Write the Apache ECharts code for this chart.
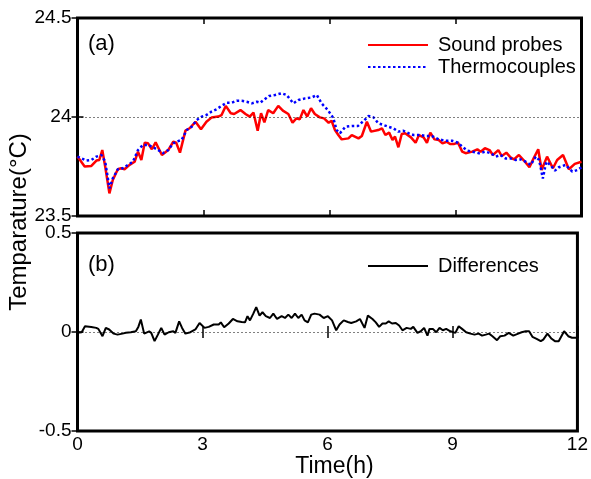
<!DOCTYPE html>
<html>
<head>
<meta charset="utf-8">
<script src="https://cdn.jsdelivr.net/npm/echarts@6/dist/echarts.min.js"></script>
<style>
html,body{margin:0;padding:0;background:#fff;}
#chart{width:591px;height:479px;}
</style>
</head>
<body>
<div id="chart"></div>
<script>
// Time (h) ticks
const timeTicks = [0, 3, 6, 9, 12];
// Top panel: [time (h), temperature (°C)]
const soundProbes = [
[0,23.80],[0.17,23.75],[0.33,23.753],[0.45,23.78],[0.52,23.783],[0.59,23.833],[0.66,23.749],[0.76,23.614],[0.84,23.682],[0.96,23.736],[1.04,23.741],[1.12,23.736],[1.24,23.758],[1.36,23.774],[1.44,23.825],[1.52,23.783],[1.60,23.870],[1.68,23.867],[1.77,23.837],[1.86,23.872],[2.01,23.808],[2.16,23.833],[2.28,23.875],[2.35,23.870],[2.44,23.820],[2.57,23.931],[2.67,23.943],[2.81,23.976],[2.94,23.938],[3.07,23.976],[3.19,23.997],[3.35,24.002],[3.43,24.010],[3.53,24.056],[3.65,24.019],[3.73,24.015],[3.88,24.035],[4.00,24.015],[4.10,24.002],[4.19,24.022],[4.29,23.931],[4.37,24.019],[4.45,23.973],[4.54,24.035],[4.66,24.019],[4.78,24.056],[4.89,24.032],[5.02,24.015],[5.12,23.971],[5.21,23.993],[5.29,23.988],[5.38,24.035],[5.47,24.002],[5.56,24.044],[5.65,24.015],[5.77,23.998],[5.87,23.993],[5.98,23.971],[6.05,23.981],[6.13,23.934],[6.21,23.909],[6.29,23.887],[6.45,23.892],[6.53,23.909],[6.69,23.892],[6.77,23.904],[6.89,23.976],[6.99,23.926],[7.16,23.934],[7.25,23.943],[7.33,23.909],[7.42,23.921],[7.50,23.884],[7.56,23.901],[7.64,23.847],[7.72,23.914],[7.80,23.918],[7.94,23.897],[8.05,23.870],[8.13,23.909],[8.24,23.897],[8.32,23.870],[8.40,23.921],[8.50,23.887],[8.60,23.884],[8.69,23.867],[8.79,23.875],[8.87,23.864],[8.97,23.864],[9.06,23.870],[9.16,23.825],[9.24,23.817],[9.40,23.825],[9.52,23.837],[9.60,23.825],[9.70,23.842],[9.81,23.833],[9.89,23.808],[10.02,23.833],[10.10,23.803],[10.21,23.820],[10.31,23.796],[10.39,23.786],[10.51,23.808],[10.63,23.780],[10.76,23.746],[10.86,23.791],[10.97,23.837],[11.05,23.732],[11.18,23.800],[11.32,23.741],[11.42,23.783],[11.56,23.808],[11.70,23.736],[11.84,23.763],[12.00,23.774]
];
const thermocouples = [
[0,23.80],[0.21,23.78],[0.33,23.783],[0.45,23.80],[0.57,23.808],[0.66,23.774],[0.76,23.640],[0.84,23.690],[0.96,23.736],[1.08,23.741],[1.20,23.758],[1.32,23.774],[1.44,23.833],[1.56,23.859],[1.68,23.859],[1.80,23.847],[1.92,23.833],[2.03,23.817],[2.16,23.833],[2.28,23.867],[2.35,23.875],[2.48,23.884],[2.60,23.934],[2.72,23.951],[2.84,23.985],[2.96,24.002],[3.07,24.010],[3.19,24.027],[3.31,24.039],[3.43,24.056],[3.55,24.072],[3.67,24.072],[3.79,24.082],[3.91,24.082],[4.03,24.077],[4.15,24.069],[4.27,24.077],[4.35,24.072],[4.45,24.089],[4.56,24.106],[4.70,24.111],[4.86,24.120],[4.98,24.111],[5.14,24.069],[5.26,24.086],[5.42,24.094],[5.58,24.099],[5.70,24.111],[5.81,24.069],[5.96,24.035],[6.09,23.995],[6.17,23.934],[6.25,23.918],[6.38,23.951],[6.53,23.955],[6.68,23.955],[6.79,23.976],[6.93,24.005],[7.05,23.998],[7.16,23.968],[7.28,23.960],[7.40,23.951],[7.52,23.943],[7.64,23.926],[7.75,23.931],[7.88,23.918],[8.00,23.909],[8.16,23.909],[8.28,23.904],[8.44,23.904],[8.60,23.887],[8.76,23.880],[8.92,23.880],[9.06,23.870],[9.16,23.850],[9.28,23.830],[9.40,23.825],[9.56,23.817],[9.72,23.825],[9.84,23.817],[9.96,23.800],[10.07,23.808],[10.19,23.791],[10.31,23.791],[10.43,23.783],[10.55,23.786],[10.67,23.774],[10.79,23.758],[10.91,23.800],[10.99,23.783],[11.08,23.690],[11.16,23.774],[11.26,23.758],[11.37,23.729],[11.46,23.746],[11.62,23.758],[11.78,23.724],[11.90,23.732],[12.00,23.746]
];
// Bottom panel: [time (h), difference (°C)]
const differences = [
[0,-0.004],[0.10,-0.001],[0.18,0.029],[0.33,0.026],[0.45,0.021],[0.50,0.016],[0.60,-0.021],[0.68,0.021],[0.76,0.013],[0.87,-0.008],[0.96,-0.013],[1.08,-0.008],[1.16,-0.004],[1.28,-0.001],[1.40,0.004],[1.46,0.026],[1.52,0.063],[1.60,-0.008],[1.72,0.003],[1.77,-0.004],[1.85,-0.046],[1.93,-0.013],[2.01,0.021],[2.09,-0.013],[2.19,-0.001],[2.30,0.004],[2.35,-0.004],[2.44,0.054],[2.51,0.021],[2.59,-0.008],[2.71,-0.001],[2.83,0.013],[2.93,0.046],[3.05,0.021],[3.15,0.026],[3.27,0.038],[3.39,0.038],[3.44,0.049],[3.52,0.024],[3.63,0.043],[3.73,0.066],[3.84,0.054],[3.94,0.051],[4.02,0.049],[4.08,0.080],[4.14,0.059],[4.22,0.093],[4.29,0.126],[4.37,0.083],[4.44,0.100],[4.52,0.080],[4.62,0.071],[4.70,0.093],[4.79,0.066],[4.90,0.080],[4.98,0.071],[5.06,0.088],[5.14,0.071],[5.22,0.093],[5.30,0.071],[5.38,0.088],[5.45,0.059],[5.53,0.049],[5.61,0.088],[5.69,0.093],[5.81,0.088],[5.91,0.071],[6.01,0.080],[6.11,0.059],[6.21,0.009],[6.29,0.038],[6.39,0.059],[6.49,0.051],[6.57,0.046],[6.69,0.054],[6.78,0.066],[6.89,0.021],[6.97,0.083],[7.08,0.066],[7.16,0.049],[7.24,0.026],[7.32,0.043],[7.40,0.043],[7.47,0.054],[7.55,0.043],[7.64,0.046],[7.72,0.033],[7.80,0.009],[7.90,0.021],[8.00,0.016],[8.06,0.026],[8.16,-0.004],[8.24,0.004],[8.32,0.021],[8.40,-0.018],[8.45,0.016],[8.53,0.016],[8.61,-0.001],[8.69,0.021],[8.77,0.009],[8.85,0.016],[8.95,0.004],[9.07,-0.004],[9.15,0.029],[9.23,0.016],[9.33,-0.001],[9.43,-0.008],[9.53,-0.013],[9.63,-0.008],[9.71,-0.018],[9.80,-0.013],[9.88,-0.008],[9.96,-0.021],[10.07,-0.041],[10.15,-0.021],[10.25,-0.018],[10.35,-0.004],[10.46,-0.018],[10.58,-0.008],[10.66,-0.001],[10.76,0.004],[10.84,0.004],[10.92,-0.024],[11.02,-0.034],[11.12,-0.046],[11.18,-0.038],[11.28,-0.008],[11.38,-0.034],[11.46,-0.046],[11.55,-0.046],[11.68,0.004],[11.78,-0.021],[11.87,-0.029],[12.00,-0.029]
];
const topRange = [23.5, 24.5];
const bottomRange = [-0.5, 0.5];
const topRef = 24;
const bottomRef = 0;

const FONT = '"Liberation Sans", Arial, Helvetica, sans-serif';
const chart = echarts.init(document.getElementById('chart'), null, {renderer: 'canvas'});

function xAx(grid, pos, labels) {
  return {
    gridIndex: grid, type: 'value', position: pos,
    min: timeTicks[0], max: timeTicks[timeTicks.length - 1], interval: 3,
    axisLine: {show: false},
    axisTick: {show: true, inside: true, length: 6, lineStyle: {color: '#000', width: 1.5}},
    splitLine: {show: false},
    axisLabel: {show: labels, color: '#000', fontSize: 19, fontFamily: FONT, margin: 4},
    name: labels ? 'Time(h)' : '', nameLocation: 'middle', nameGap: 21,
    nameTextStyle: {color: '#000', fontSize: 23, fontFamily: FONT, padding: [0, 0, 0, 14]}
  };
}
function yAx(grid, pos, range, labels) {
  return {
    gridIndex: grid, type: 'value', position: pos,
    min: range[0], max: range[1], interval: 0.5,
    axisLine: {show: false},
    axisTick: {show: true, inside: true, length: 6, lineStyle: {color: '#000', width: 1.5}},
    splitLine: {show: false},
    axisLabel: {show: labels, color: '#000', fontSize: 19, fontFamily: FONT, margin: 6}
  };
}
const refLine = (v) => ({
  silent: true, symbol: 'none', animation: false,
  label: {show: false},
  lineStyle: {type: [1, 3], color: '#000', width: 1},
  data: [{yAxis: v}]
});
const legendBase = {
  orient: 'vertical', left: 367, padding: 0,
  itemWidth: 60, itemHeight: 12, itemGap: 2,
  itemStyle: {opacity: 0},
  textStyle: {color: '#000', fontSize: 20, fontFamily: FONT, lineHeight: 20, padding: [0, 0, 0, 5]},
  selectedMode: false
};

const option = {
  animation: false,
  backgroundColor: '#fff',
  textStyle: {fontFamily: FONT},
  grid: [
    {left: 77.5, top: 18, width: 504, height: 198, show: true, borderColor: '#000', borderWidth: 3, backgroundColor: 'transparent', containLabel: false},
    {left: 77.5, top: 233, width: 504, height: 199, show: true, borderColor: '#000', borderWidth: 3, backgroundColor: 'transparent', containLabel: false}
  ],
  xAxis: [xAx(0, 'bottom', false), xAx(0, 'top', false), xAx(1, 'bottom', true), xAx(1, 'top', false)],
  yAxis: [yAx(0, 'left', topRange, true), yAx(0, 'right', topRange, false), yAx(1, 'left', bottomRange, true), yAx(1, 'right', bottomRange, false)],
  legend: [
    Object.assign({}, legendBase, {data: ['Sound probes', 'Thermocouples'], top: 35}),
    Object.assign({}, legendBase, {data: ['Differences'], top: 256})
  ],
  graphic: [
    {type: 'text', x: 19, y: 222, rotation: Math.PI / 2, style: {text: 'Temparature(°C)', fill: '#000', font: '24px ' + FONT, textAlign: 'center', textVerticalAlign: 'middle'}},
    {type: 'text', x: 88, y: 44, style: {text: '(a)', fill: '#000', font: '22px ' + FONT, textAlign: 'left', textVerticalAlign: 'middle'}},
    {type: 'text', x: 88, y: 265, style: {text: '(b)', fill: '#000', font: '22px ' + FONT, textAlign: 'left', textVerticalAlign: 'middle'}}
  ],
  series: [
    {name: 'Sound probes', type: 'line', xAxisIndex: 0, yAxisIndex: 0, data: soundProbes, symbol: 'none',
     lineStyle: {color: '#ff0000', width: 2.5}, itemStyle: {color: '#ff0000'}, markLine: refLine(topRef), z: 2},
    {name: 'Thermocouples', type: 'line', xAxisIndex: 0, yAxisIndex: 0, data: thermocouples, symbol: 'none',
     lineStyle: {color: '#0000ff', width: 2.5, type: [2.5, 2.5]}, itemStyle: {color: '#0000ff'}, z: 3},
    {name: 'Differences', type: 'line', xAxisIndex: 2, yAxisIndex: 2, data: differences, symbol: 'none',
     lineStyle: {color: '#000', width: 2}, itemStyle: {color: '#000'}, markLine: refLine(bottomRef), z: 2}
  ]
};
chart.setOption(option);
</script>
</body>
</html>
